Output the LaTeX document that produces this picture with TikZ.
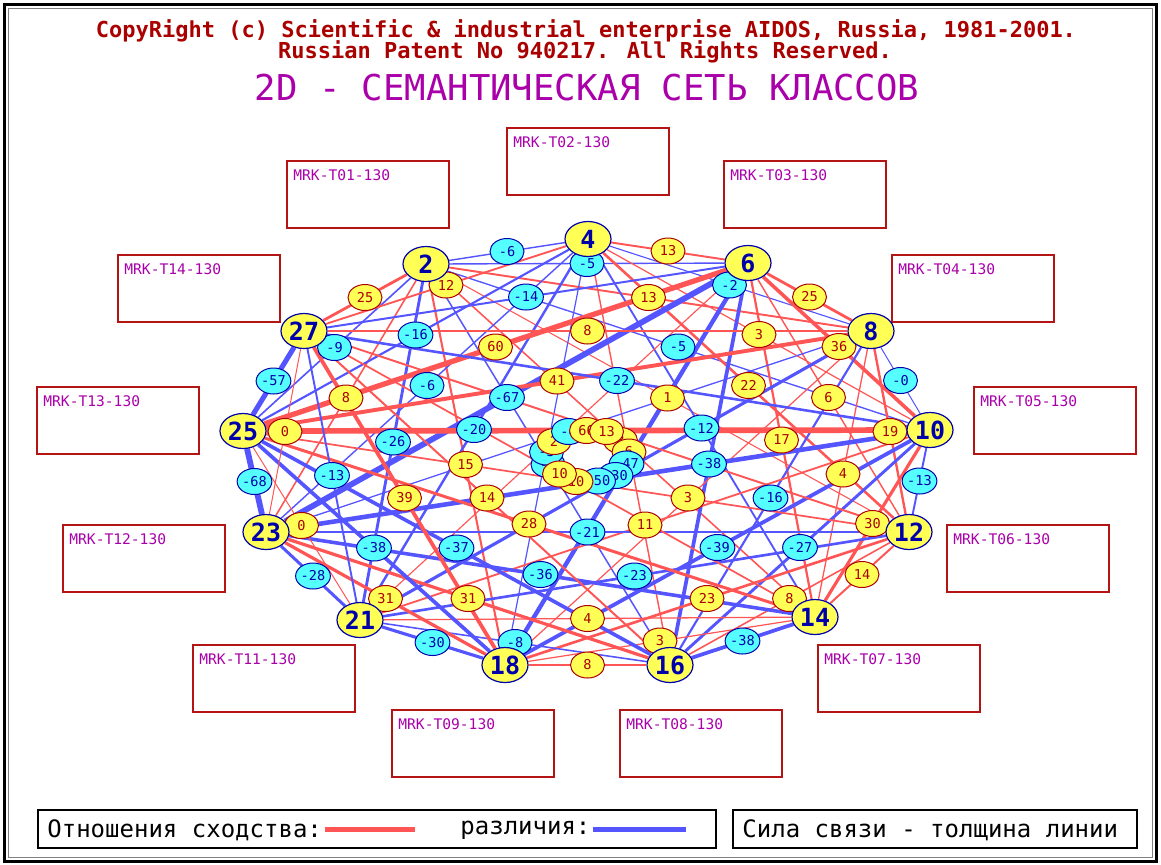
\documentclass[tikz,border=0pt]{standalone}
\usepackage{fontspec}
\setmainfont{DejaVu Sans Mono}
\usetikzlibrary{shapes.geometric, positioning}

\definecolor{pline}{RGB}{255,85,85}
\definecolor{nline}{RGB}{85,85,255}
\definecolor{pfill}{RGB}{255,255,85}
\definecolor{pdark}{RGB}{170,0,0}
\definecolor{nfill}{RGB}{85,255,255}
\definecolor{ndark}{RGB}{0,0,170}
\definecolor{frmred}{RGB}{180,20,20}
\definecolor{ttlred}{RGB}{170,0,0}
\definecolor{ttlmag}{RGB}{170,0,170}

\pgfdeclarelayer{edgelayer}
\pgfdeclarelayer{labellayer}
\pgfsetlayers{edgelayer,labellayer,main}

\begin{document}
\begin{tikzpicture}[
		x=0.5pt, y=-0.5pt,
		cls/.style={draw=ndark, fill=pfill, ellipse, line width=0.6pt, minimum width=23pt, minimum height=17.5pt, inner sep=0pt, text=ndark, font=\fontsize{12.5}{12.5}\selectfont\bfseries},
		rel/.style 2 args={draw=#1line, line width=0.5pt+#2pt/28},
		wt/.style={draw=#1dark, fill=#1fill, text=#1dark, ellipse, line width=0.5pt, minimum width=17pt, minimum height=13pt, inner sep=0pt, font=\fontsize{6.8}{6.8}\selectfont},
		frm/.style={draw=frmred, line width=1pt},
		frmtxt/.style={text=ttlmag, font=\fontsize{7.3}{7.3}\selectfont, inner sep=0pt, anchor=north west},
		ttl/.style={text=ttlred, font=\fontsize{11}{11}\selectfont\bfseries, inner sep=0pt},
		hdr/.style={text=ttlmag, font=\fontsize{17.8}{17.8}\selectfont, inner sep=0pt},
		lgd/.style={draw=black, line width=1pt},
		lgdtxt/.style={font=\fontsize{12}{12}\selectfont, inner sep=0pt, anchor=west}
	]
		\useasboundingbox (0,0) rectangle (1161,864);
		\draw[line width=1.5pt] (4,4) rectangle (1156,861);
		\draw[gray, line width=0.5pt] (8,8) rectangle (1152,857);

		% Header
		\node[ttl] (cpr1) at (586,31) {CopyRight (c) Scientific \& industrial enterprise AIDOS, Russia, 1981-2001.};
		\node[ttl] (cpr2) at (585,52) {Russian Patent No 940217. All Rights Reserved.};
		\node[hdr] (hdr) at (587,88) {2D - СЕМАНТИЧЕСКАЯ СЕТЬ КЛАССОВ};

		% Class boxes
		\foreach \n/\x/\y in {01/287/161, 02/507/128, 03/724/161, 04/892/255, 05/974/387, 06/947/525, 07/818/645,
			08/620/710, 09/392/710, 11/193/645, 12/63/525, 13/37/387, 14/118/255} {
			\draw[frm] (\x,\y) rectangle ++(162,67);
			\node[frmtxt] (t\n) at (\x+6,\y+8) {MRK-T\n-130};
		}

		% Classes
		\foreach \n/\x/\y in {2/426/264, 4/588/239, 6/748/263, 8/871/331, 10/930/430, 12/909/532, 14/815/617,
			16/670/665, 18/505/665, 21/360/620, 23/266/532, 25/243/431, 27/304/331}
			\node[cls] (n\n) at (\x,\y) {\n};

		% Relations: p = similarity, n = difference
		\def\rels{2/4/n/6, 2/6/n/5, 2/8/p/13, 2/10/n/5, 2/12/p/1, 2/14/p/8, 2/16/n/7, 2/18/p/15, 2/21/n/26, 2/23/p/8, 2/25/n/9, 2/27/p/25,
			4/6/p/13, 4/8/n/2, 4/10/p/3, 4/12/p/22, 4/14/n/12, 4/16/p/6, 4/18/n/3, 4/21/n/20, 4/23/n/6, 4/25/n/16, 4/27/p/12,
			6/8/p/25, 6/10/p/36, 6/12/p/6, 6/14/p/17, 6/16/n/38, 6/18/n/47, 6/21/p/2, 6/23/n/67, 6/25/p/60, 6/27/n/14,
			8/10/n/0, 8/12/p/19, 8/14/p/4, 8/16/n/16, 8/18/p/3, 8/21/n/30, 8/23/n/4, 8/25/p/41, 8/27/p/8,
			10/12/n/13, 10/14/p/30, 10/16/n/27, 10/18/n/39, 10/21/p/11, 10/23/n/50, 10/25/p/66, 10/27/n/22,
			12/14/p/14, 12/16/p/8, 12/18/p/23, 12/21/n/23, 12/23/n/21, 12/25/p/10, 12/27/p/13,
			14/16/n/38, 14/18/p/3, 14/21/p/4, 14/23/n/36, 14/25/p/28, 14/27/p/10,
			16/18/p/8, 16/21/n/8, 16/23/p/31, 16/25/n/37, 16/27/p/14,
			18/21/n/30, 18/23/p/31, 18/25/n/38, 18/27/p/39,
			21/23/n/28, 21/25/p/0, 21/27/n/13,
			23/25/n/68, 23/27/p/0,
			25/27/n/57}
		\begin{pgfonlayer}{edgelayer}
			\foreach \i/\j/\s/\w in \rels
				\draw[rel={\s}{\w}] (n\i) -- (n\j);
		\end{pgfonlayer}
		\begin{pgfonlayer}{labellayer}
			\foreach \i/\j/\s/\w in \rels
				\path (n\i.center) -- node[wt=\s] (w\i-\j) {\if n\s-\fi\w} (n\j.center);
		\end{pgfonlayer}

		% Legend
		\draw[lgd] (38,810) rectangle (716,848);
		\node[lgdtxt] (simtxt) at (47,830) {Отношения сходства:};
		\coordinate (simA) at (325,829);
		\coordinate (simB) at (415,829);
		\draw[pline, line width=2.5pt] (simA) -- (simB);
		\node[lgdtxt] (diftxt) at (460,830) {различия:};
		\coordinate (difA) at (593,829);
		\coordinate (difB) at (686,829);
		\draw[nline, line width=2.5pt] (difA) -- (difB);
		\draw[lgd] (733,810) rectangle (1137,848);
		\node[lgdtxt] (wtxt) at (742,830) {Сила связи - толщина линии};
	\end{tikzpicture}
\end{document}
